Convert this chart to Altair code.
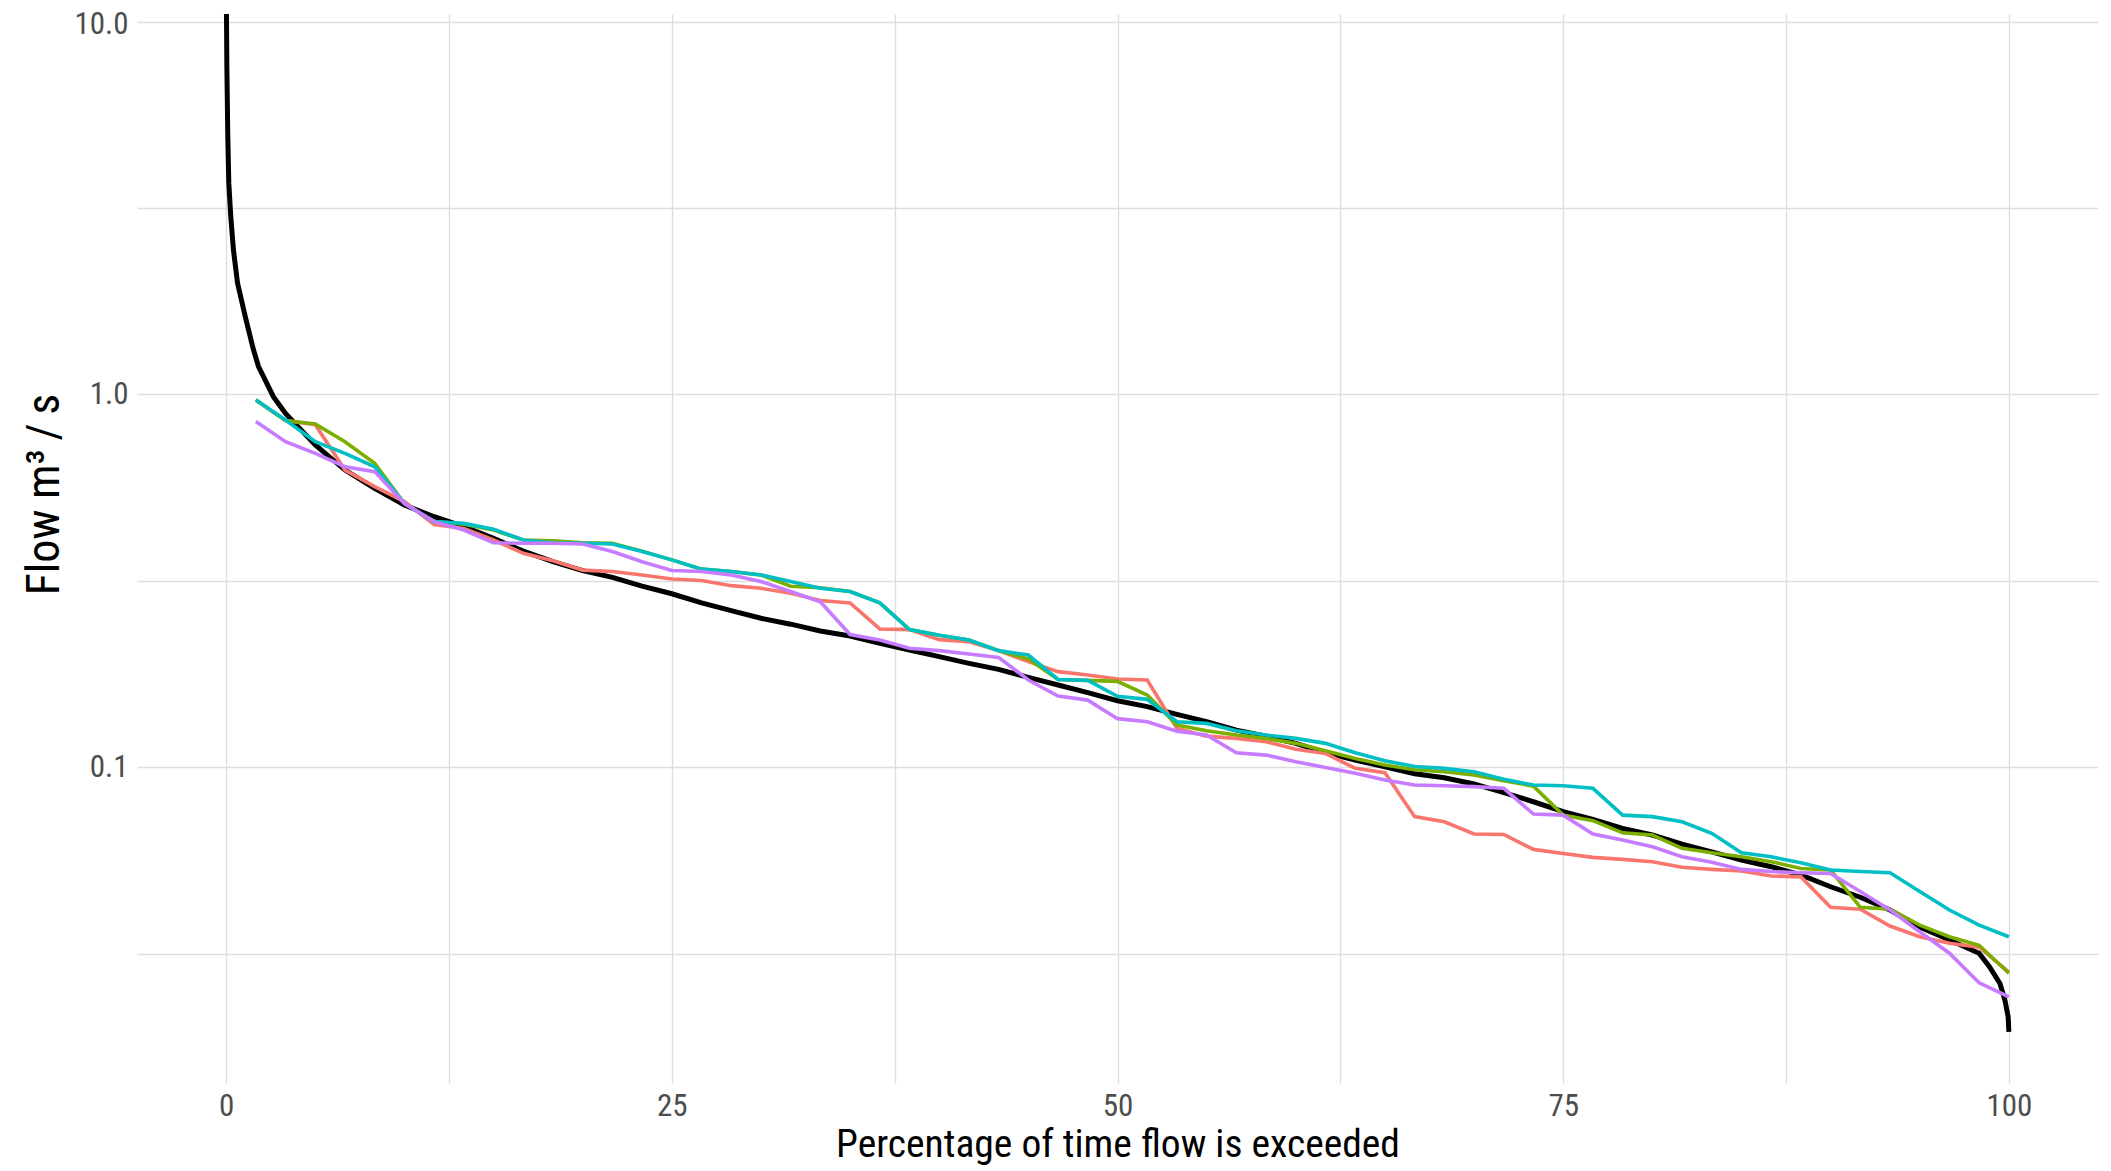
import altair as alt
import pandas as pd

# Percentage positions of the four simulated series (60 equally spaced points)
pct_sim = [round(100 * i / 60, 4) for i in range(1, 61)]

series_names = ["Sim 1", "Sim 2", "Sim 3", "Sim 4"]
series_colors = ["#F8766D", "#7CAE00", "#00BFC4", "#C77CFF"]

sim1 = [0.967, 0.851, 0.830, 0.627, 0.566, 0.516, 0.448, 0.437, 0.407, 0.375,
        0.358, 0.338, 0.335, 0.328, 0.320, 0.317, 0.307, 0.302, 0.293, 0.280,
        0.276, 0.235, 0.234, 0.220, 0.217, 0.2055, 0.192, 0.1805, 0.1768, 0.1724,
        0.1714, 0.1271, 0.1212, 0.1195, 0.1171, 0.1117, 0.1089, 0.0993, 0.0967, 0.0737,
        0.0714, 0.0662, 0.0660, 0.0602, 0.0587, 0.0573, 0.0566, 0.0558, 0.0539, 0.0532,
        0.0527, 0.0511, 0.0508, 0.0421, 0.0416, 0.0375, 0.0351, 0.0337, 0.0329, 0.0282]

sim2 = [0.967, 0.851, 0.834, 0.747, 0.654, 0.510, 0.456, 0.449, 0.433, 0.407,
        0.405, 0.400, 0.399, 0.380, 0.360, 0.340, 0.335, 0.328, 0.306, 0.303,
        0.296, 0.276, 0.234, 0.226, 0.2195, 0.2055, 0.195, 0.172, 0.171, 0.170,
        0.1562, 0.1298, 0.1253, 0.1220, 0.1195, 0.1159, 0.1108, 0.1056, 0.1014, 0.0985,
        0.0973, 0.0953, 0.0920, 0.0890, 0.0744, 0.0719, 0.0667, 0.0658, 0.0606, 0.0590,
        0.0575, 0.0558, 0.0535, 0.0530, 0.0421, 0.0416, 0.0377, 0.0351, 0.0333, 0.0280]

sim3 = [0.967, 0.854, 0.747, 0.695, 0.640, 0.510, 0.456, 0.451, 0.435, 0.407,
        0.400, 0.399, 0.397, 0.379, 0.360, 0.340, 0.335, 0.328, 0.315, 0.302,
        0.296, 0.276, 0.234, 0.226, 0.2195, 0.2055, 0.200, 0.172, 0.171, 0.155,
        0.1521, 0.1325, 0.1311, 0.1253, 0.1220, 0.1195, 0.1159, 0.1094, 0.1041, 0.1005,
        0.0993, 0.0973, 0.0928, 0.0896, 0.0892, 0.0878, 0.0744, 0.0737, 0.0714, 0.0665,
        0.0590, 0.0575, 0.0554, 0.0530, 0.0525, 0.0521, 0.0464, 0.0414, 0.0377, 0.0351]

sim4 = [0.846, 0.747, 0.695, 0.640, 0.621, 0.510, 0.456, 0.433, 0.400, 0.399,
        0.399, 0.397, 0.379, 0.356, 0.337, 0.335, 0.328, 0.315, 0.296, 0.278,
        0.227, 0.2195, 0.2085, 0.2055, 0.2012, 0.1971, 0.1714, 0.1552, 0.1514, 0.135,
        0.1325, 0.1250, 0.1220, 0.1094, 0.1078, 0.1035, 0.0999, 0.0963, 0.0924, 0.0896,
        0.0892, 0.0887, 0.0878, 0.0749, 0.0744, 0.0662, 0.0638, 0.0612, 0.0575, 0.0556,
        0.0532, 0.0525, 0.0521, 0.0519, 0.0464, 0.0414, 0.0362, 0.0317, 0.0264, 0.0242]

# Observed flow duration curve (black)
obs_pct = [0, 0.04, 0.09, 0.15, 0.26, 0.41, 0.64, 1.07, 1.53, 1.81, 2.65, 3.33,
           5.0, 6.67, 8.33, 10.0, 11.67, 13.33, 15.0, 16.67, 18.33, 20.0,
           21.67, 23.33, 25.0, 26.67, 28.33, 30.0, 31.67, 33.33, 35.0, 36.67,
           38.33, 40.0, 41.67, 43.33, 45.0, 46.67, 48.33, 50.0, 51.67, 53.33,
           55.0, 56.67, 58.33, 60.0, 61.67, 63.33, 65.0, 66.67, 68.33, 70.0,
           71.67, 73.33, 75.0, 76.67, 78.33, 80.0, 81.67, 83.33, 85.0, 86.67,
           88.33, 90.0, 91.67, 93.33, 95.0, 96.67, 98.33, 98.9, 99.5, 99.78,
           99.96, 100.0]
obs_flow = [14.0, 7.58, 5.02, 3.69, 3.0, 2.44, 1.99, 1.62, 1.32, 1.19, 0.987, 0.89,
            0.732, 0.627, 0.560, 0.505, 0.470, 0.442, 0.411, 0.380, 0.356, 0.337,
            0.323, 0.306, 0.292, 0.276, 0.263, 0.251, 0.242, 0.232, 0.225, 0.215,
            0.2064, 0.198, 0.190, 0.183, 0.1742, 0.1662, 0.1585, 0.1508, 0.1454, 0.1386,
            0.1325, 0.1258, 0.1212, 0.1159, 0.1094, 0.1045, 0.1003, 0.096, 0.0937, 0.0902,
            0.0855, 0.0808, 0.0760, 0.0725, 0.0685, 0.0658, 0.0622, 0.0593, 0.0564, 0.0541,
            0.0514, 0.0478, 0.0448, 0.0414, 0.0373, 0.0344, 0.0317, 0.0292, 0.0263, 0.0237,
            0.0214, 0.0195]

x_grid_values = [0, 12.5, 25, 37.5, 50, 62.5, 75, 87.5, 100]
x_label_values = [0, 25, 50, 75, 100]
y_grid_values = [0.0316, 0.1, 0.316, 1.0, 3.16, 10.0]
y_label_values = [0.1, 1.0, 10.0]

rows = []
for name, vals in zip(series_names, [sim1, sim2, sim3, sim4]):
    for p, v in zip(pct_sim, vals):
        rows.append({"pct": p, "flow": v, "series": name})
sim_df = pd.DataFrame(rows)
obs_df = pd.DataFrame({"pct": obs_pct, "flow": obs_flow})

FONT = "Roboto Condensed, Liberation Sans Narrow, DejaVu Sans Condensed, Roboto, sans-serif"

x_scale = alt.Scale(domain=[-5, 105], nice=False, zero=False)
y_scale = alt.Scale(type="log", domain=[0.01422, 10.49], nice=False)

x_axis = alt.Axis(
    title="Percentage of time flow is exceeded",
    values=x_grid_values,
    labelExpr="indexof(%s, datum.value) >= 0 ? format(datum.value, 'd') : ''" % str(x_label_values),
    labelPadding=8,
    titlePadding=4,
    titleFontSize=39.5,
)
y_axis = alt.Axis(
    title="Flow m\u00b3\u2009/\u2009s",
    values=y_grid_values,
    labelExpr="indexof(%s, datum.value) >= 0 ? format(datum.value, '.1f') : ''" % str(y_label_values),
    labelPadding=9,
    labelOffset={"condition": {"test": "datum.value >= 9", "value": 3}, "value": 0},
    titleFontSize=46,
    titleAnchor=None,
    titleAngle=270,
    titleAlign="center",
    titleBaseline="middle",
    titleX=-93,
    titleY=480,
)

obs_line = alt.Chart(obs_df).mark_line(color="black", strokeWidth=5, clip=True).encode(
    x=alt.X("pct:Q", scale=x_scale, axis=x_axis),
    y=alt.Y("flow:Q", scale=y_scale, axis=y_axis),
)

sim_lines = alt.Chart(sim_df).mark_line(strokeWidth=3.6, clip=True).encode(
    x=alt.X("pct:Q", scale=x_scale, axis=x_axis),
    y=alt.Y("flow:Q", scale=y_scale, axis=y_axis),
    color=alt.Color("series:N", scale=alt.Scale(domain=series_names, range=series_colors), legend=None),
    detail="series:N",
)

chart = alt.layer(obs_line, sim_lines).properties(
    width=1961,
    height=1069,
    autosize=alt.AutoSizeParams(type="none"),
    padding={"left": 129, "top": 6, "right": 5, "bottom": 85},
).configure_view(stroke=None).configure_axis(
    domain=False,
    ticks=False,
    grid=True,
    gridColor="#DDDDDD",
    gridWidth=1.3,
    labelFont=FONT,
    labelFontSize=31,
    labelColor="#4D4D4D",
    titleFont=FONT,
    titleFontWeight="normal",
    titleColor="black",
)

chart.save("out.html", embed_options={"renderer": "svg", "actions": False})
